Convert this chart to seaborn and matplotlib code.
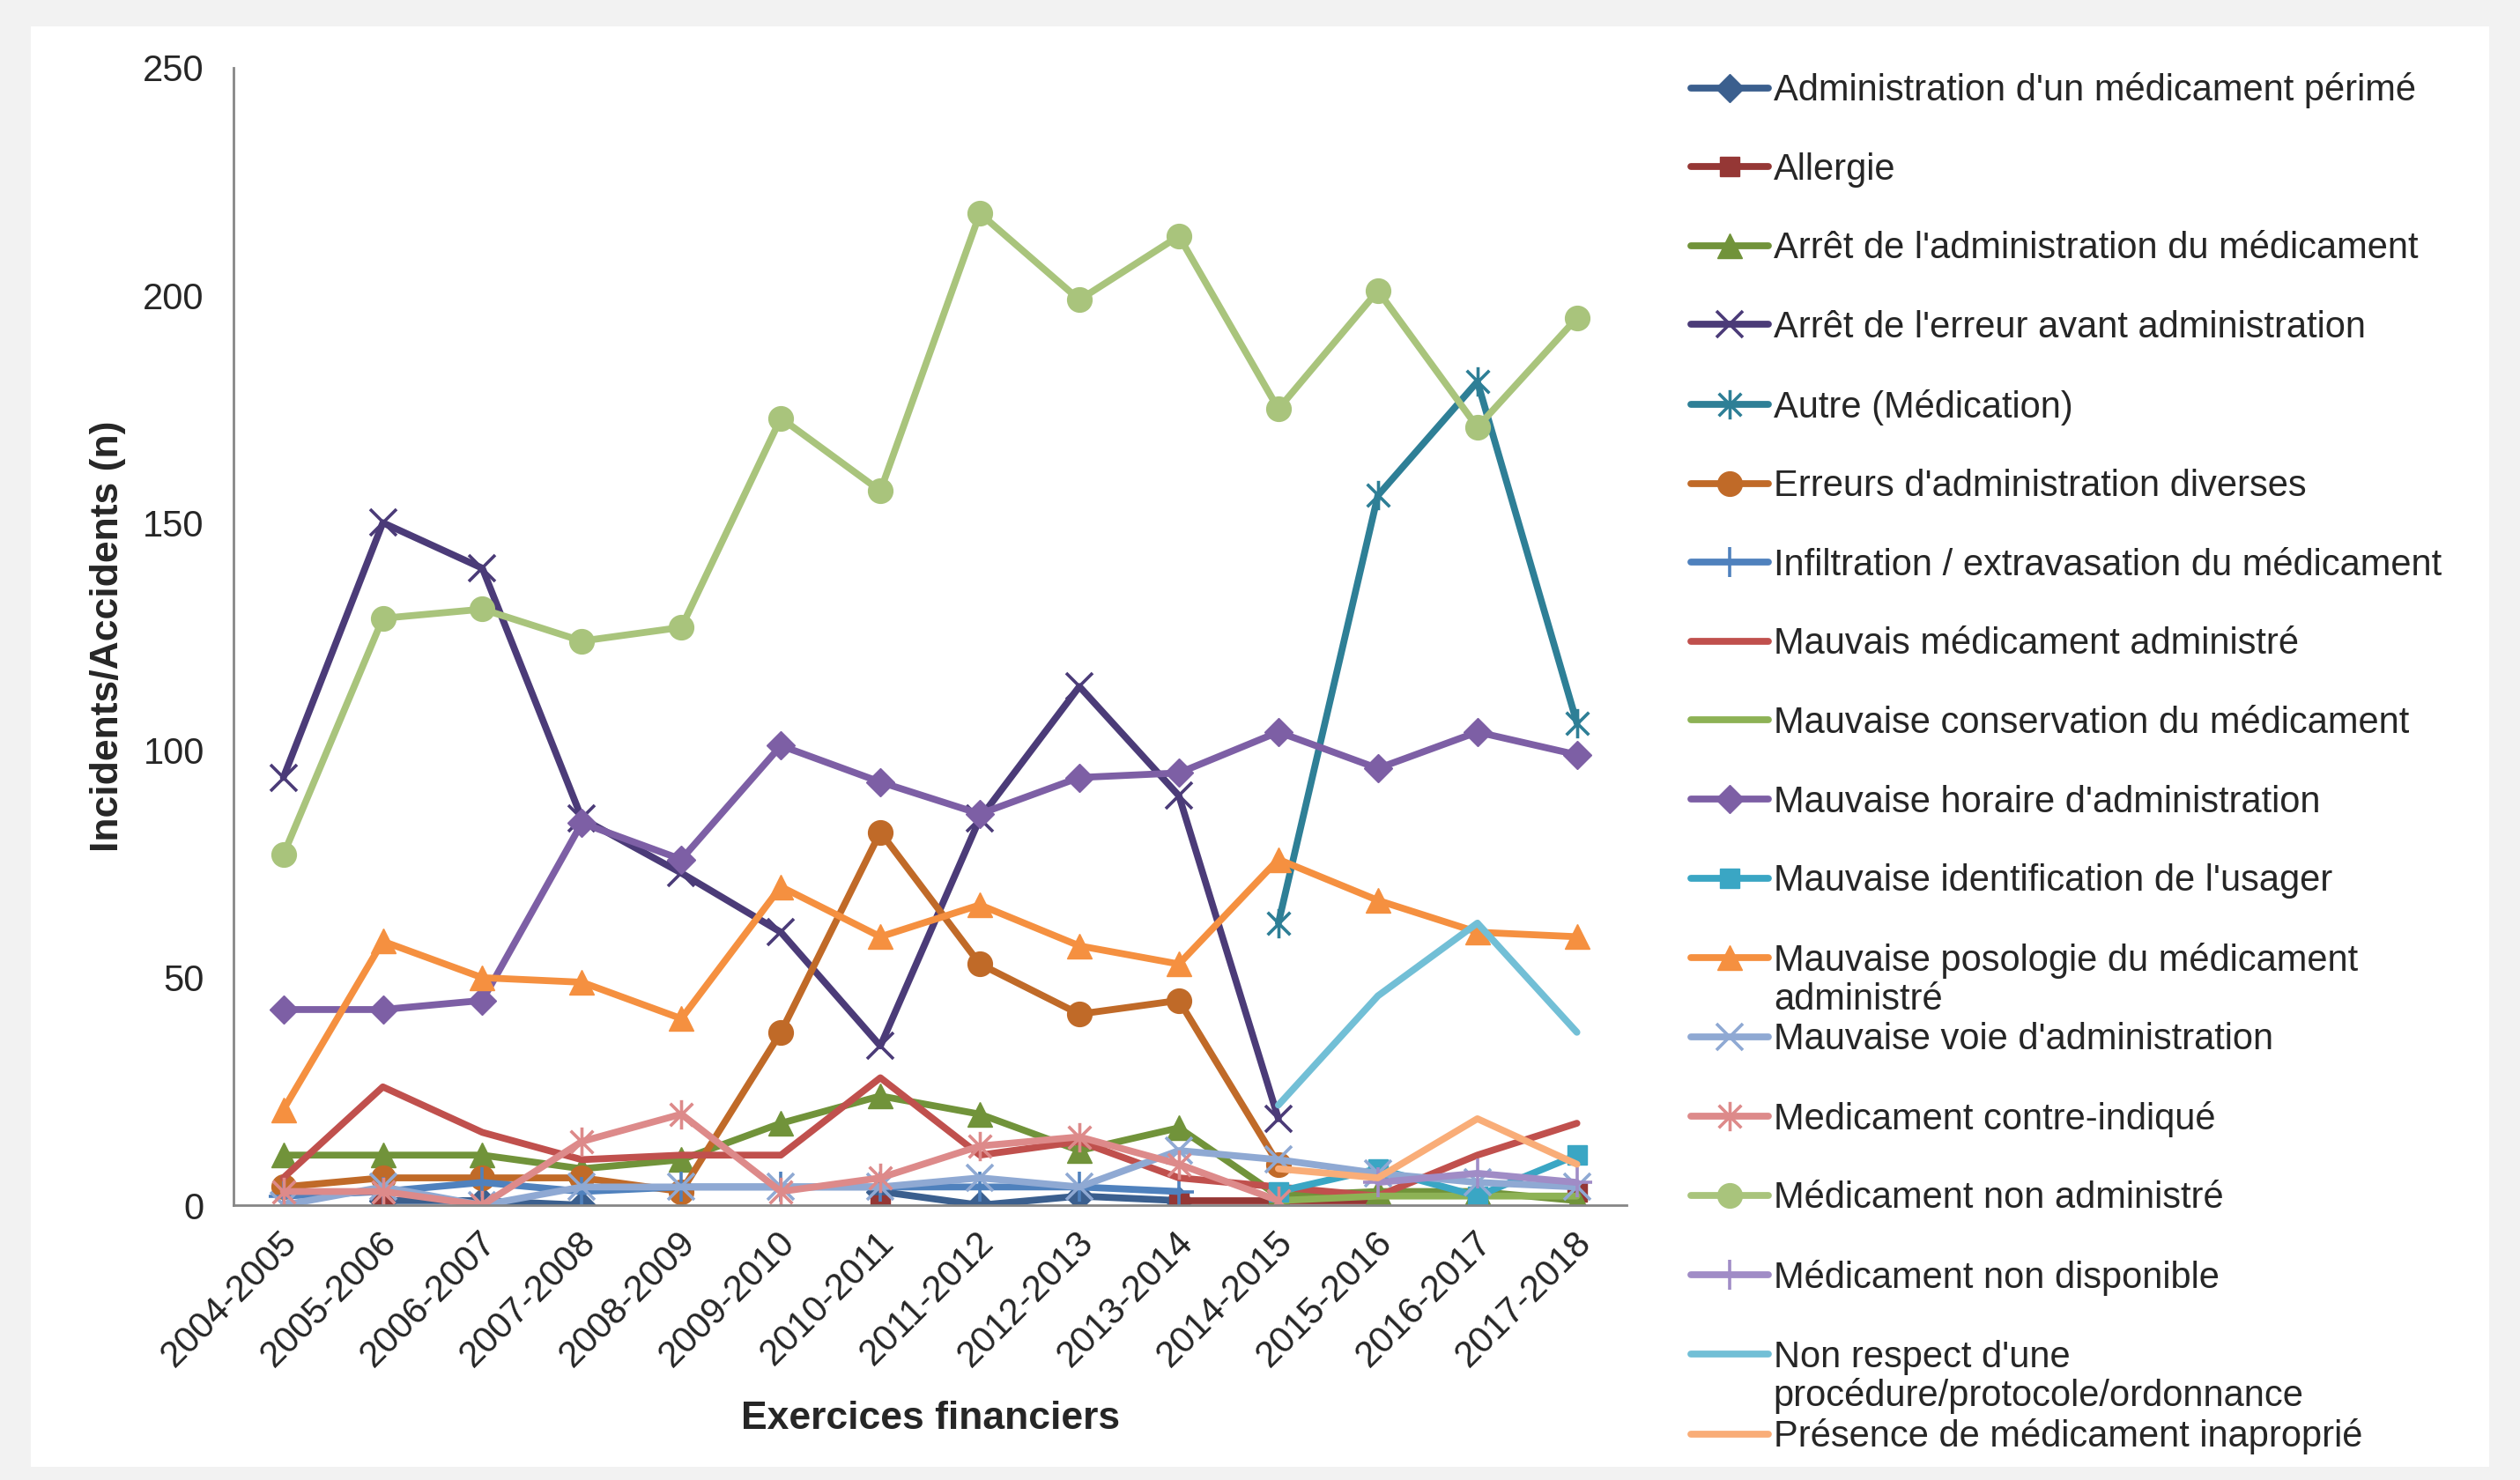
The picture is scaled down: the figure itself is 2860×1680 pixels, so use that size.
import numpy as np
import pandas as pd
import matplotlib
matplotlib.use("Agg")
import matplotlib.pyplot as plt
from matplotlib.lines import Line2D
from matplotlib.path import Path
from matplotlib.patches import Rectangle
from matplotlib.transforms import ScaledTranslation
import seaborn as sns

nan = np.nan

# ---- donnees ----
periodes = ["2004-2005", "2005-2006", "2006-2007", "2007-2008", "2008-2009",
            "2009-2010", "2010-2011", "2011-2012", "2012-2013", "2013-2014",
            "2014-2015", "2015-2016", "2016-2017", "2017-2018"]

perime        = [nan, 1, 1, 0, nan, nan, 3, 0, 2, 1, nan, nan, nan, nan]
allergie      = [nan, 1, nan, nan, nan, nan, 0, nan, nan, 1, 1, 1, nan, 3]
arret_admin   = [11, 11, 11, 8, 10, 18, 24, 20, 12, 17, 2, 3, 3, 1]
arret_erreur  = [94, 150, 140, 85, 73, 60, 35, 85, 114, 90, 19, nan, nan, nan]
autre         = [nan, nan, nan, nan, nan, nan, nan, nan, nan, nan, 62, 156, 181, 106]
erreurs_div   = [4, 6, 6, 6, 3, 38, 82, 53, 42, 45, 9, nan, nan, nan]
infiltration  = [2, 3, 5, 3, 4, 4, 4, 4, 4, 3, nan, nan, nan, nan]
mauvais_med   = [6, 26, 16, 10, 11, 11, 28, 11, 14, 6, 4, 2, 11, 18]
conservation  = [nan, nan, nan, nan, nan, nan, nan, nan, nan, nan, 1, 2, 2, 2]
horaire       = [43, 43, 45, 84, 76, 101, 93, 86, 94, 95, 104, 96, 104, 99]
identif       = [nan, nan, nan, nan, nan, nan, nan, nan, nan, nan, 3, 8, 2, 11]
posologie     = [21, 58, 50, 49, 41, 70, 59, 66, 57, 53, 76, 67, 60, 59]
voie          = [0, 4, 0, 4, 4, 4, 4, 6, 4, 12, 10, 7, 5, 4]
contre_ind    = [3, 3, 0, 14, 20, 3, 6, 13, 15, 9, 1, nan, nan, nan]
non_admin     = [77, 129, 131, 124, 127, 173, 157, 218, 199, 213, 175, 201, 171, 195]
non_dispo     = [nan, nan, nan, nan, nan, nan, nan, nan, nan, nan, nan, 5, 7, 5]
non_respect   = [nan, nan, nan, nan, nan, nan, nan, nan, nan, nan, 22, 46, 62, 38]
presence      = [nan, nan, nan, nan, nan, nan, nan, nan, nan, nan, 8, 6, 19, 9]

libelles = ["Administration d'un médicament périmé", "Allergie",
            "Arrêt de l'administration du médicament", "Arrêt de l'erreur avant administration",
            "Autre (Médication)", "Erreurs d'administration diverses",
            "Infiltration / extravasation du médicament", "Mauvais médicament administré",
            "Mauvaise conservation du médicament", "Mauvaise horaire d'administration",
            "Mauvaise identification de l'usager", "Mauvaise posologie du médicament",
            "Mauvaise voie d'administration", "Medicament contre-indiqué",
            "Médicament non administré", "Médicament non disponible",
            "Non respect d'une", "Présence de médicament inaproprié"]
valeurs = [perime, allergie, arret_admin, arret_erreur, autre, erreurs_div,
           infiltration, mauvais_med, conservation, horaire, identif, posologie,
           voie, contre_ind, non_admin, non_dispo, non_respect, presence]
suite = {"Mauvaise posologie du médicament": "administré",
         "Non respect d'une": "procédure/protocole/ordonnance"}

# ---- styles (facon Excel) ----
etoile = Path([(-1, -1), (1, 1), (-1, 1), (1, -1), (0, -1.3), (0, 1.3)],
              [Path.MOVETO, Path.LINETO] * 3)
couleurs = ["#3B5F8E", "#953735", "#71933A", "#4B3B78", "#2E7F96", "#C06A28",
            "#4F81BD", "#C0504D", "#8DB255", "#7D5FA5", "#3AA6C4", "#F59040",
            "#8FA9D3", "#DD8A8A", "#A9C47C", "#A08CC6", "#72BFD6", "#F9AD78"]
marqueurs = ["D", "s", "^", "x", etoile, "o", "+", None, None,
             "D", "s", "^", "x", etoile, "o", "+", None, None]
tailles = [8, 8, 10, 11, 12, 10, 12, 0, 0, 8, 8, 10, 11, 12, 10, 12, 0, 0]

sns.set_style("white")
plt.rcParams["font.family"] = ["Liberation Sans", "DejaVu Sans"]

fig = plt.figure(figsize=(14.3, 8.4), dpi=200, facecolor="#F2F2F2")
fig.patches.append(Rectangle((35 / 2860, 15 / 1680), 2790 / 2860, 1635 / 1680,
                             transform=fig.transFigure, facecolor="white",
                             edgecolor="none", zorder=-5))
ax = fig.add_axes([0.0927, 0.1857, 0.5528, 0.7685])
ax.set_facecolor("white")

x = np.arange(len(periodes))
handles = []
for lab, vals, c, m, ms in zip(libelles, valeurs, couleurs, marqueurs, tailles):
    v = np.array(vals, dtype=float)
    df = pd.DataFrame({"pos": x, "val": v, "seg": np.cumsum(np.isnan(v))})
    df = df.dropna()
    fin = m in ("x", "+") or m is etoile
    kw = dict(color=c, linewidth=2.8, markersize=ms, markeredgecolor=c,
              markerfacecolor=c, markeredgewidth=1.3 if fin else 0.5)
    if m is not None:
        kw["marker"] = m
    sns.lineplot(data=df, x="pos", y="val", units="seg", estimator=None,
                 ax=ax, legend=False, **kw)
    handles.append(Line2D([], [], label=lab, **kw))

# ---- axes ----
gris = "#868686"
ax.set_xlim(-0.5, len(periodes) - 0.5)
ax.set_ylim(0, 250)
ax.set_yticks(range(0, 251, 50))
for s in ["top", "right"]:
    ax.spines[s].set_visible(False)
for s in ["left", "bottom"]:
    ax.spines[s].set_color(gris)
    ax.spines[s].set_linewidth(1.0)

ax.set_xticks(np.arange(-0.5, len(periodes), 1.0))
ax.set_xticklabels([])
ax.set_xticks(x, minor=True)
ax.set_xticklabels(periodes, minor=True, rotation=45, ha="right", va="top",
                   rotation_mode="anchor", fontsize=15)
ax.tick_params(axis="x", which="major", direction="out", length=5, width=1, color=gris)
ax.tick_params(axis="x", which="minor", length=0, pad=8)
ax.tick_params(axis="y", direction="out", length=5, width=1, color=gris,
               labelsize=15, pad=7)
for t in ax.get_xticklabels(minor=True):
    t.set_transform(t.get_transform() + ScaledTranslation(-1.5 / 72, 0, fig.dpi_scale_trans))

ax.set_xlabel("Exercices financiers", fontsize=16, fontweight="bold")
ax.set_ylabel("Incidents/Accidents (n)", fontsize=16, fontweight="bold")
ax.xaxis.set_label_coords(0.5, -0.172)
ax.yaxis.set_label_coords(-0.077, 0.5)

# ---- legende ----
leg = fig.legend(handles=handles, loc="upper left", bbox_to_anchor=(0.671, 0.951),
                 frameon=False, fontsize=15, handlelength=2.1, handletextpad=0.15,
                 labelspacing=1.19, borderpad=0, borderaxespad=0)

fig.canvas.draw()
for t in leg.get_texts():
    if t.get_text() in suite:
        px, py = t.get_transform().transform(t.get_position())
        fx, fy = fig.transFigure.inverted().transform((px, py - 44))
        fig.text(fx, fy, suite[t.get_text()], fontsize=15, ha="left", va="baseline")

fig.savefig("out.png", dpi=200, facecolor=fig.get_facecolor())
